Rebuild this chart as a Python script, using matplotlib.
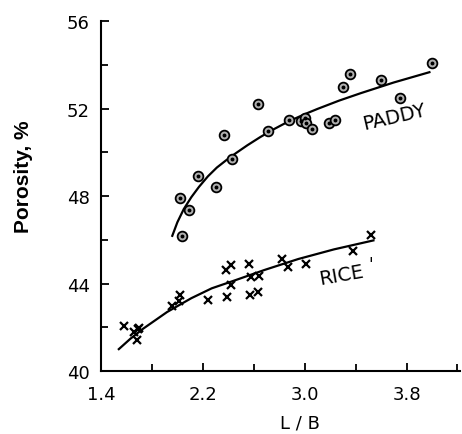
import numpy as np
import matplotlib
matplotlib.use("Agg")
import matplotlib.pyplot as plt

# Paddy measurements (L/B, porosity %)
paddy_lb = [2.02, 2.04, 2.09, 2.16, 2.30, 2.37, 2.43, 2.63, 2.71, 2.875,
            2.97, 3.00, 3.01, 3.06, 3.19, 3.24, 3.30, 3.36, 3.60, 3.75, 4.00]
paddy_por = [47.9, 46.15, 47.37, 48.92, 48.43, 50.8, 49.68, 52.2, 50.99, 51.46,
             51.43, 51.58, 51.35, 51.05, 51.35, 51.48, 53.0, 53.56, 53.3, 52.5, 54.06]

# Rice measurements
rice_lb = [1.58, 1.66, 1.68, 1.69, 1.70, 1.96, 2.01, 2.02, 2.24, 2.38, 2.39, 2.42,
           2.42, 2.56, 2.57, 2.58, 2.63, 2.64, 2.82, 2.87, 3.01, 3.38, 3.52]
rice_por = [42.04, 41.77, 41.43, 41.92, 41.95, 42.95, 43.2, 43.47, 43.24, 44.61, 43.39, 44.84,
            43.93, 44.9, 43.47, 44.32, 43.59, 44.35, 45.14, 44.75, 44.9, 45.47, 46.24]

# Fitted curves as drawn in the figure
paddy_curve_lb = [1.96, 2.00, 2.05, 2.11, 2.17, 2.24, 2.31, 2.38, 2.46, 2.55, 2.65, 2.75,
                  2.87, 3.00, 3.10, 3.27, 3.44, 3.70, 3.98]
paddy_curve_por = [46.18, 46.8, 47.4, 47.95, 48.42, 48.9, 49.3, 49.62, 49.96, 50.32, 50.69,
                   51.03, 51.4, 51.74, 51.98, 52.36, 52.7, 53.19, 53.66]
rice_curve_lb = [1.54, 1.63, 1.73, 1.92, 2.11, 2.27, 2.43, 2.69, 2.95, 3.23, 3.54]
rice_curve_por = [41.0, 41.47, 41.93, 42.7, 43.33, 43.78, 44.1, 44.63, 45.12, 45.56, 45.97]

x_major = [1.4, 2.2, 3.0, 3.8]
x_minor = [1.8, 2.6, 3.4, 4.2]
y_major = [40, 44, 48, 52, 56]
y_minor = [42, 46, 50, 54]

fig = plt.figure(figsize=(4.62, 4.35), dpi=100)
ax = fig.add_axes([0.2186, 0.1448, 0.777, 0.8046])

ax.plot(paddy_curve_lb, paddy_curve_por, color='black', lw=1.6)
ax.plot(rice_curve_lb, rice_curve_por, color='black', lw=1.6)

ax.plot(paddy_lb, paddy_por, linestyle='none', marker='o', ms=7,
        mfc='#b0b0b0', mec='black', mew=1.3)
ax.plot(paddy_lb, paddy_por, linestyle='none', marker='o', ms=1.8,
        mfc='black', mec='black')
ax.plot(rice_lb, rice_por, linestyle='none', marker='x', ms=5.5,
        color='black', mew=1.6)

ax.text(3.70, 51.64, 'PADDY', fontsize=14, rotation=13, ha='center', va='center')
ax.text(3.29, 44.4, 'RICE', fontsize=14, rotation=10, ha='center', va='center')
ax.text(3.52, 44.88, "'", fontsize=12, ha='center', va='center')

ax.set_xlim(1.4, 4.22)
ax.set_ylim(40, 56)
ax.set_xticks(x_major)
ax.set_xticks(x_minor, minor=True)
ax.set_yticks(y_major)
ax.set_yticks(y_minor, minor=True)
ax.tick_params(axis='both', which='both', direction='in', width=1.3, labelsize=13)
ax.tick_params(axis='both', which='major', length=6)
ax.tick_params(axis='both', which='minor', length=5)
ax.tick_params(axis='y', pad=8)
ax.tick_params(axis='x', pad=10)

for s in ['top', 'right']:
    ax.spines[s].set_visible(False)
for s in ['left', 'bottom']:
    ax.spines[s].set_linewidth(1.5)

ax.set_xlabel('L / B', fontsize=13)
ax.xaxis.set_label_coords(0.554, -0.122)
ax.set_ylabel('Porosity, %', fontsize=15, fontweight='bold', family='Liberation Sans')
ax.yaxis.set_label_coords(-0.19, 0.557)

fig.savefig('out.png', dpi=100)
